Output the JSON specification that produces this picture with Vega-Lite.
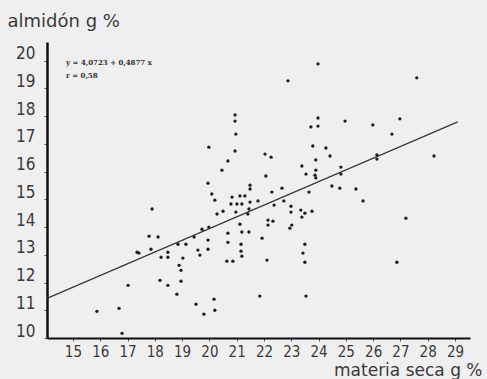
{
  "$schema": "https://vega.github.io/schema/vega-lite/v6.json",
  "width": 423,
  "height": 296,
  "autosize": "none",
  "padding": {"left": 47, "top": 42, "right": 17, "bottom": 41},
  "background": "#efefef",
  "config": {
    "view": {"stroke": null},
    "axis": {"grid": false, "labelOverlap": false, "labelFont": "DejaVu Sans Condensed, Liberation Sans Narrow, DejaVu Sans, sans-serif", "titleFont": "DejaVu Sans, sans-serif", "labelColor": "#3a3a3a", "titleColor": "#3a3a3a", "titleFontWeight": "normal"},
    "axisQuantitative": {"labelOverlap": false}
  },
  "datasets": {
    "pts": [
      {"ms": 15.88, "alm": 10.96}, {"ms": 16.69, "alm": 11.07}, {"ms": 16.80, "alm": 10.17}, {"ms": 17.02, "alm": 11.90},
      {"ms": 17.35, "alm": 13.09}, {"ms": 17.42, "alm": 13.06}, {"ms": 17.79, "alm": 13.67}, {"ms": 17.90, "alm": 14.65},
      {"ms": 17.86, "alm": 13.20}, {"ms": 18.12, "alm": 13.64}, {"ms": 18.19, "alm": 12.08}, {"ms": 18.23, "alm": 12.91},
      {"ms": 18.48, "alm": 13.09}, {"ms": 18.48, "alm": 12.91}, {"ms": 18.48, "alm": 11.90}, {"ms": 18.81, "alm": 11.58},
      {"ms": 18.89, "alm": 12.62}, {"ms": 18.96, "alm": 12.44}, {"ms": 18.96, "alm": 12.05}, {"ms": 19.03, "alm": 12.88},
      {"ms": 18.85, "alm": 13.38}, {"ms": 19.14, "alm": 13.38}, {"ms": 19.44, "alm": 13.64}, {"ms": 19.51, "alm": 11.22},
      {"ms": 19.58, "alm": 13.17}, {"ms": 19.65, "alm": 12.99}, {"ms": 19.80, "alm": 10.86}, {"ms": 19.73, "alm": 13.92},
      {"ms": 19.98, "alm": 14.00}, {"ms": 19.95, "alm": 13.53}, {"ms": 19.95, "alm": 13.20}, {"ms": 19.98, "alm": 16.88},
      {"ms": 19.95, "alm": 15.58}, {"ms": 20.17, "alm": 11.40}, {"ms": 20.20, "alm": 11.00}, {"ms": 20.09, "alm": 15.19},
      {"ms": 20.20, "alm": 14.97}, {"ms": 20.28, "alm": 14.47}, {"ms": 20.50, "alm": 14.57}, {"ms": 20.46, "alm": 16.05},
      {"ms": 20.68, "alm": 16.38}, {"ms": 20.94, "alm": 18.04}, {"ms": 20.94, "alm": 17.82}, {"ms": 20.97, "alm": 17.35},
      {"ms": 20.94, "alm": 16.74}, {"ms": 20.83, "alm": 15.08}, {"ms": 21.12, "alm": 15.12}, {"ms": 21.30, "alm": 15.12},
      {"ms": 20.79, "alm": 14.83}, {"ms": 21.01, "alm": 14.83}, {"ms": 21.19, "alm": 14.83}, {"ms": 21.49, "alm": 14.90},
      {"ms": 21.78, "alm": 14.94}, {"ms": 20.97, "alm": 14.54}, {"ms": 21.41, "alm": 14.47}, {"ms": 21.45, "alm": 14.65},
      {"ms": 21.49, "alm": 15.51}, {"ms": 21.49, "alm": 15.37}, {"ms": 21.12, "alm": 14.10}, {"ms": 20.68, "alm": 13.78},
      {"ms": 21.19, "alm": 13.82}, {"ms": 21.45, "alm": 13.82}, {"ms": 20.68, "alm": 13.45}, {"ms": 21.16, "alm": 13.38},
      {"ms": 21.16, "alm": 13.13}, {"ms": 21.19, "alm": 12.95}, {"ms": 20.64, "alm": 12.77}, {"ms": 20.86, "alm": 12.77},
      {"ms": 21.93, "alm": 13.60}, {"ms": 22.11, "alm": 12.81}, {"ms": 21.85, "alm": 11.51}, {"ms": 22.04, "alm": 16.63},
      {"ms": 22.26, "alm": 16.52}, {"ms": 22.07, "alm": 15.84}, {"ms": 22.29, "alm": 15.26}, {"ms": 22.66, "alm": 15.40},
      {"ms": 22.73, "alm": 14.94}, {"ms": 22.37, "alm": 14.79}, {"ms": 22.15, "alm": 14.25}, {"ms": 22.33, "alm": 14.21},
      {"ms": 22.15, "alm": 14.07}, {"ms": 22.99, "alm": 14.75}, {"ms": 22.99, "alm": 14.54}, {"ms": 23.02, "alm": 14.07},
      {"ms": 22.95, "alm": 13.96}, {"ms": 22.88, "alm": 19.27}, {"ms": 23.39, "alm": 16.20}, {"ms": 23.54, "alm": 15.91},
      {"ms": 23.65, "alm": 15.26}, {"ms": 23.35, "alm": 14.61}, {"ms": 23.50, "alm": 14.50}, {"ms": 23.76, "alm": 14.57},
      {"ms": 23.39, "alm": 14.36}, {"ms": 23.50, "alm": 13.38}, {"ms": 23.43, "alm": 13.06}, {"ms": 23.50, "alm": 12.73},
      {"ms": 23.54, "alm": 11.51}, {"ms": 23.98, "alm": 19.88}, {"ms": 23.98, "alm": 17.93}, {"ms": 23.72, "alm": 17.61},
      {"ms": 23.98, "alm": 17.64}, {"ms": 23.79, "alm": 16.92}, {"ms": 24.27, "alm": 16.85}, {"ms": 24.42, "alm": 16.56},
      {"ms": 23.90, "alm": 16.42}, {"ms": 23.90, "alm": 16.05}, {"ms": 23.87, "alm": 15.87}, {"ms": 23.90, "alm": 15.77},
      {"ms": 24.82, "alm": 16.16}, {"ms": 24.82, "alm": 15.91}, {"ms": 24.49, "alm": 15.48}, {"ms": 24.78, "alm": 15.40},
      {"ms": 25.37, "alm": 15.37}, {"ms": 25.63, "alm": 14.94}, {"ms": 24.97, "alm": 17.82}, {"ms": 25.99, "alm": 17.68},
      {"ms": 26.14, "alm": 16.60}, {"ms": 26.14, "alm": 16.45}, {"ms": 26.69, "alm": 17.35}, {"ms": 26.98, "alm": 17.90},
      {"ms": 27.60, "alm": 19.38}, {"ms": 28.23, "alm": 16.56}, {"ms": 27.20, "alm": 14.32}, {"ms": 26.87, "alm": 12.73}
    ],
    "fit": [{"ms": 14.05, "alm": 11.43}, {"ms": 29.1, "alm": 17.79}],
    "eq": [
      {"ms": 14.75, "alm": 19.92, "label": "y = 4,0723 + 0,4877 x"},
      {"ms": 14.75, "alm": 19.45, "label": "r = 0,58"}
    ]
  },
  "encoding": {
    "x": {"field": "ms", "type": "quantitative", "scale": {"domain": [14.05, 29.55], "nice": false, "zero": false},
      "axis": {"values": [15,16,17,18,19,20,21,22,23,24,25,26,27,28,29], "labelOverlap": false, "labelBound": false, "domainColor": "#111", "domainWidth": 2, "tickColor": "#555", "tickSize": 3, "labelFontSize": 15, "labelPadding": 3,
        "title": "materia seca g %", "titleFontSize": 17, "titleX": 435, "titleY": 32, "titleAlign": "right", "titleBaseline": "middle"}},
    "y": {"field": "alm", "type": "quantitative", "scale": {"domain": [10, 20.67], "nice": false, "zero": false},
      "axis": {"values": [10,11,12,13,14,15,16,17,18,19,20], "labelOverlap": false, "labelBound": false, "domainColor": "#111", "domainWidth": 2.5, "tickColor": "#555", "tickSize": 3, "labelFontSize": 17, "labelPadding": 9, "labelOffset": -7,
        "title": "almidón g %", "titleFontSize": 18, "titleAngle": 0, "titleX": -40, "titleY": -21, "titleAlign": "left", "titleBaseline": "middle"}}
  },
  "layer": [
    {
      "data": {"name": "fit"},
      "mark": {"type": "line", "color": "#3a3a3a", "strokeWidth": 1.3}
    },
    {
      "data": {"name": "pts"},
      "mark": {"type": "circle", "size": 11, "color": "#1e1e1e", "opacity": 1}
    },
    {
      "data": {"name": "eq"},
      "mark": {"type": "text", "align": "left", "baseline": "middle", "fontSize": 7, "fontWeight": "bold", "font": "DejaVu Serif, serif", "color": "#333"},
      "encoding": {
        "text": {"field": "label"}
      }
    }
  ]
}
